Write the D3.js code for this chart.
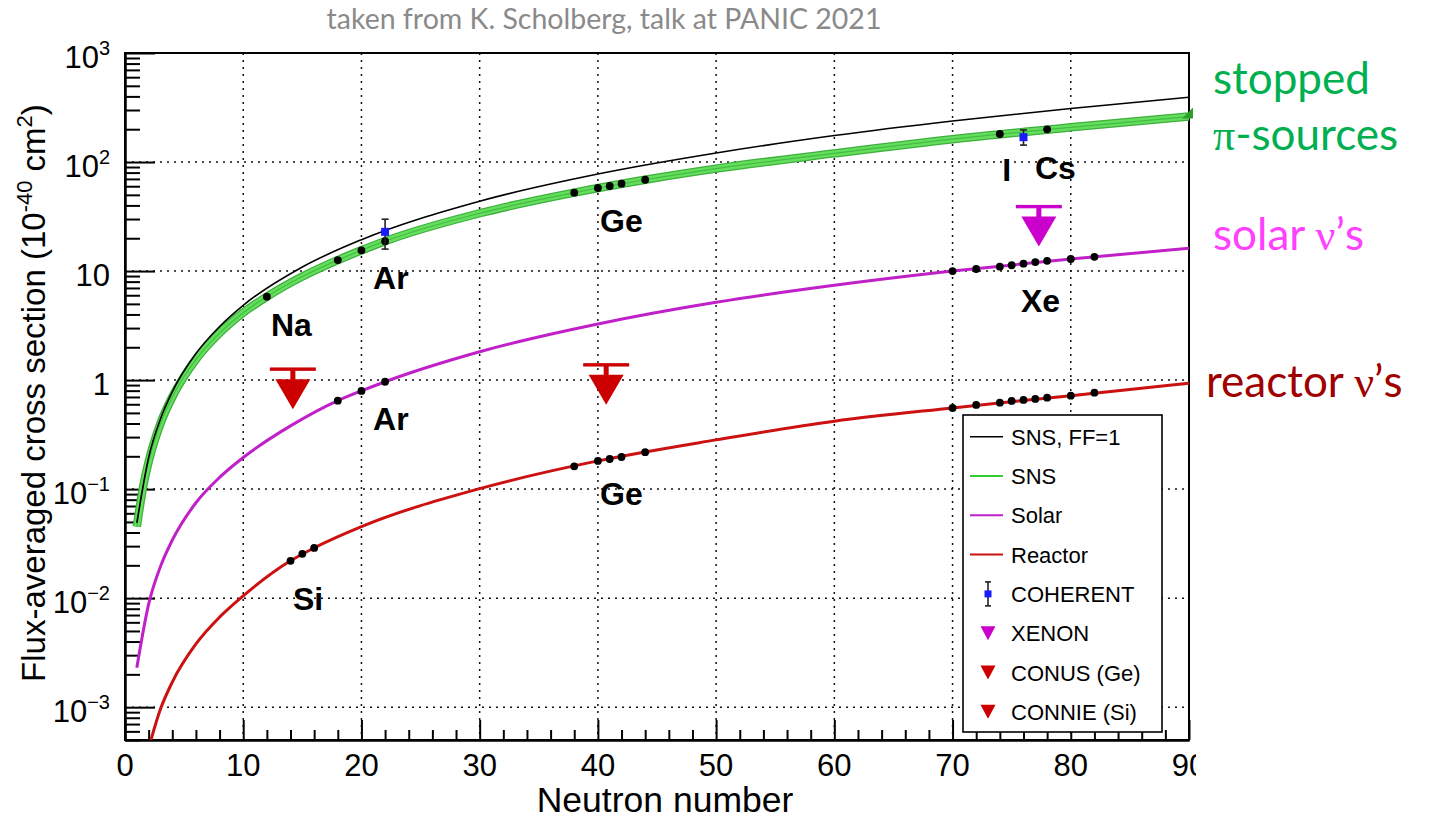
<!DOCTYPE html>
<html>
<head>
<meta charset="utf-8">
<script src="https://cdn.jsdelivr.net/npm/d3@7"></script>
<style>
  body { margin: 0; background: #fff; }
  svg { display: block; }
</style>
</head>
<body>
<svg id="chart" width="1432" height="822"></svg>
<script>
// ---- Flux-averaged CEvNS cross sections vs neutron number ----

// SNS, form factor = 1
const ffN     = [1, 2, 3, 4, 6, 8, 10, 15, 20, 30, 40, 50, 60, 70, 80, 90];
const ffSigma = [0.049, 0.195, 0.44, 0.78, 1.75, 3.1, 4.85, 10.9, 19.4, 43.7, 77.6, 121, 175, 238, 310, 393];

// SNS (stopped-pion source)
const snsN     = [1, 1.5, 2, 3, 4, 5, 6, 8, 10, 12, 15, 18, 20, 22, 30, 38, 44, 50, 60, 70, 80, 90];
const snsSigma = [0.0453, 0.10, 0.178, 0.40, 0.70, 1.08, 1.55, 2.7, 4.15, 5.82, 8.9, 12.6, 15.5, 18.8, 33.9, 52.4, 68.8, 87, 120, 162, 208, 261];

// Solar neutrinos
const solarN     = [1, 2, 3, 4, 6, 8, 10, 14, 18, 20, 22, 30, 40, 50, 60, 70, 80, 90];
const solarSigma = [0.0023, 0.0088, 0.0195, 0.034, 0.075, 0.128, 0.195, 0.38, 0.648, 0.796, 0.966, 1.82, 3.27, 5.17, 7.4, 10.0, 12.9, 16.2];

// Reactor antineutrinos
const reactorN     = [2, 3, 4, 6, 8, 10, 14, 16, 20, 30, 40, 50, 60, 70, 80, 90];
const reactorSigma = [0.00042, 0.00096, 0.0017, 0.0038, 0.0067, 0.0105, 0.022, 0.0289, 0.0453, 0.101, 0.1815, 0.283, 0.42, 0.556, 0.72, 0.935];

// Isotopes of target nuclei on each curve
const snsIsoN     = [12, 18, 20, 22, 38, 40, 41, 42, 44, 74, 78];
const snsIsoSigma = [5.82, 12.6, 15.5, 18.8, 52.4, 57.8, 60.3, 63.3, 68.8, 180.7, 199.6];
const solarIsoN     = [18, 20, 22, 70, 72, 74, 75, 76, 77, 78, 80, 82];
const solarIsoSigma = [0.648, 0.796, 0.966, 10.0, 10.45, 10.97, 11.3, 11.7, 12.1, 12.4, 12.9, 13.5];
const reactorIsoN     = [14, 15, 16, 38, 40, 41, 42, 44, 70, 72, 74, 75, 76, 77, 78, 80, 82];
const reactorIsoSigma = [0.022, 0.0255, 0.0289, 0.162, 0.1815, 0.189, 0.197, 0.218, 0.556, 0.592, 0.621, 0.644, 0.658, 0.672, 0.690, 0.720, 0.767];

// COHERENT measurements (Ar, CsI)
const cohN     = [22, 76];
const cohSigma = [22.9, 169];
const cohErrLo = [7.0, 26];
const cohErrHi = [7.0, 28];

// Upper limits
const limitNames = ["CONNIE (Si)", "CONUS (Ge)", "XENON"];
const limitN     = [14.2, 40.7, 77.3];
const limitSigma = [1.26, 1.38, 39];

// Element labels (text, N, sigma at baseline-left)
const elemText  = ["Na", "Ar", "Ge", "I", "Cs", "Xe", "Ar", "Ge", "Si"];
const elemN     = [12.35, 20.98, 40.18, 74.2, 76.97, 75.79, 20.98, 40.18, 14.21];
const elemSigma = [2.54, 6.85, 22.9, 67, 70, 4.22, 0.349, 0.0716, 0.0078];

// Axis ticks
const xMajor = [0, 10, 20, 30, 40, 50, 60, 70, 80, 90];
const yDecades = [-3, -2, -1, 0, 1, 2, 3];

const legendLabels = ["SNS, FF=1", "SNS", "Solar", "Reactor", "COHERENT", "XENON", "CONUS (Ge)", "CONNIE (Si)"];

// ---------------------------------------------------------------
const FONT = "'Liberation Sans', Arial, Helvetica, sans-serif";
const C = {
  ff: "#000000",
  snsEdge: "#3bb03b", snsFill: "#66dd5e", snsMid: "#3fbf3f",
  solar: "#c020c8",
  reactor: "#cc1111",
  limitRed: "#cc0000",
  limitMag: "#cc00cc",
  coh: "#1a1aff"
};

const svg = d3.select("#chart");
const X0 = 125, X1 = 1189, Y0 = 53, Y1 = 740;
const x = d3.scaleLinear().domain([0, 90]).range([X0, X1]);
const y = d3.scaleLog().domain([5e-4, 1e3]).range([Y1, Y0]);

const zip = (a, b) => a.map((v, i) => ({ n: v, s: b[i] }));

// caption
svg.append("text")
  .attr("x", 604).attr("y", 29)
  .attr("text-anchor", "middle")
  .attr("font-family", "Lato, 'Open Sans', sans-serif")
  .attr("font-size", 28.5)
  .attr("fill", "#8a8a8a")
  .text("taken from K. Scholberg, talk at PANIC 2021");

// clip for plot contents
const defs = svg.append("defs");
defs.append("clipPath").attr("id", "plotClip")
  .append("rect").attr("x", X0).attr("y", Y0).attr("width", X1 - X0).attr("height", Y1 - Y0);
defs.append("clipPath").attr("id", "pageClip")
  .append("rect").attr("x", 0).attr("y", 0).attr("width", 1196).attr("height", 822);

// grid
const grid = svg.append("g").attr("stroke", "#111").attr("stroke-width", 1.5)
  .attr("stroke-dasharray", "2,5");
grid.selectAll("line.v").data(xMajor.filter(d => d > 0 && d < 90)).join("line")
  .attr("x1", d => x(d)).attr("x2", d => x(d)).attr("y1", Y0).attr("y2", Y1);
grid.selectAll("line.h").data(yDecades.filter(d => d < 3)).join("line")
  .attr("y1", d => y(Math.pow(10, d))).attr("y2", d => y(Math.pow(10, d)))
  .attr("x1", X0).attr("x2", X1);

// axes (ticks point inward)
const yMinor = [];
for (let d = -4; d <= 2; d++) for (let k = 2; k <= 9; k++) {
  const v = k * Math.pow(10, d);
  if (v >= 5e-4 && v <= 1e3) yMinor.push(v);
}
const axStyle = g => { g.selectAll("path, line").attr("stroke", "#000").attr("stroke-width", 2); g.selectAll("text").remove(); };

svg.append("g").attr("transform", `translate(${X0},0)`)
  .call(d3.axisLeft(y).tickValues(yMinor).tickSize(-15).tickSizeOuter(0).tickFormat(""))
  .call(axStyle);
svg.append("g").attr("transform", `translate(${X0},0)`)
  .call(d3.axisLeft(y).tickValues(yDecades.map(d => Math.pow(10, d))).tickSize(-30).tickSizeOuter(0).tickFormat(""))
  .call(axStyle);
svg.append("g").attr("transform", `translate(0,${Y1})`)
  .call(d3.axisBottom(x).tickValues(d3.range(0, 91, 2).filter(v => v % 10)).tickSize(-10).tickSizeOuter(0).tickFormat(""))
  .call(axStyle);
svg.append("g").attr("transform", `translate(0,${Y1})`)
  .call(d3.axisBottom(x).tickValues(xMajor).tickSize(-20).tickSizeOuter(0).tickFormat(""))
  .call(axStyle);

// frame
svg.append("rect").attr("x", X0).attr("y", Y0).attr("width", X1 - X0).attr("height", Y1 - Y0)
  .attr("fill", "none").attr("stroke", "#000").attr("stroke-width", 2);

// x tick labels
svg.append("g").attr("clip-path", "url(#pageClip)")
  .selectAll("text").data(xMajor).join("text")
  .attr("x", d => x(d)).attr("y", 776)
  .attr("text-anchor", "middle")
  .attr("font-family", FONT).attr("font-size", 31)
  .text(d => d);

// y tick labels
const yl = svg.append("g").attr("font-family", FONT).attr("font-size", 31);
yDecades.forEach(d => {
  const t = yl.append("text").attr("x", 110).attr("y", y(Math.pow(10, d)) + 15).attr("text-anchor", "end");
  if (d === 0) t.text("1");
  else if (d === 1) t.text("10");
  else {
    t.append("tspan").text("10");
    t.append("tspan").attr("dy", -13).attr("font-size", 20).text(d < 0 ? "\u2212" + (-d) : String(d));
  }
});

// axis titles
svg.append("text").attr("x", 665).attr("y", 812).attr("text-anchor", "middle")
  .attr("font-family", FONT).attr("font-size", 35.5).text("Neutron number");

const yt = svg.append("text")
  .attr("transform", "translate(45,393) rotate(-90)")
  .attr("text-anchor", "middle")
  .attr("font-family", FONT).attr("font-size", 33);
yt.append("tspan").text("Flux-averaged cross section (10");
yt.append("tspan").attr("dy", -13).attr("font-size", 22).text("-40");
yt.append("tspan").attr("dy", 13).text(" cm");
yt.append("tspan").attr("dy", -13).attr("font-size", 22).text("2");
yt.append("tspan").attr("dy", 13).text(")");

// curves
const line = d3.line().x(d => x(d.n)).y(d => y(d.s)).curve(d3.curveMonotoneX);
const plot = svg.append("g").attr("clip-path", "url(#plotClip)");

plot.append("path").datum(zip(snsN, snsSigma)).attr("d", line)
  .attr("fill", "none").attr("stroke", C.snsEdge).attr("stroke-width", 8.5);
plot.append("path").datum(zip(snsN, snsSigma)).attr("d", line)
  .attr("fill", "none").attr("stroke", C.snsFill).attr("stroke-width", 6);
plot.append("path").datum(zip(snsN, snsSigma)).attr("d", line)
  .attr("fill", "none").attr("stroke", C.snsMid).attr("stroke-width", 1.2);

plot.append("path").datum(zip(ffN, ffSigma)).attr("d", line)
  .attr("fill", "none").attr("stroke", C.ff).attr("stroke-width", 1.6);
plot.append("path").datum(zip(solarN, solarSigma)).attr("d", line)
  .attr("fill", "none").attr("stroke", C.solar).attr("stroke-width", 3);
plot.append("path").datum(zip(reactorN, reactorSigma)).attr("d", line)
  .attr("fill", "none").attr("stroke", C.reactor).attr("stroke-width", 3);

// small end-marker on the SNS band at N = 90
{
  const ex = x(snsN[snsN.length - 1]), ey = y(snsSigma[snsSigma.length - 1]);
  svg.append("path").attr("d", `M${ex - 7},${ey + 2} L${ex + 4},${ey - 9} L${ex + 4},${ey + 2} Z`)
    .attr("fill", "#2aa02a");
}

// isotope points
const dots = zip(snsIsoN, snsIsoSigma).concat(zip(solarIsoN, solarIsoSigma), zip(reactorIsoN, reactorIsoSigma));
svg.append("g").selectAll("circle").data(dots).join("circle")
  .attr("cx", d => x(d.n)).attr("cy", d => y(d.s)).attr("r", 3.9).attr("fill", "#000");

// COHERENT points
const coh = svg.append("g");
cohN.forEach((n, i) => {
  const cx = x(n), lo = y(cohSigma[i] - cohErrLo[i]), hi = y(cohSigma[i] + cohErrHi[i]), cy = y(cohSigma[i]);
  coh.append("line").attr("x1", cx).attr("x2", cx).attr("y1", lo).attr("y2", hi).attr("stroke", "#222").attr("stroke-width", 1.6);
  coh.append("line").attr("x1", cx - 3.5).attr("x2", cx + 3.5).attr("y1", lo).attr("y2", lo).attr("stroke", "#222").attr("stroke-width", 1.6);
  coh.append("line").attr("x1", cx - 3.5).attr("x2", cx + 3.5).attr("y1", hi).attr("y2", hi).attr("stroke", "#222").attr("stroke-width", 1.6);
  coh.append("rect").attr("x", cx - 4).attr("y", cy - 4).attr("width", 8).attr("height", 8).attr("fill", C.coh);
});

// upper limits: bar at the limit, arrow pointing down
const limColor = [C.limitRed, C.limitRed, C.limitMag];
limitN.forEach((n, i) => {
  const cx = x(n), cy = y(limitSigma[i]);
  const g = svg.append("g").attr("fill", limColor[i]);
  g.append("rect").attr("x", cx - 23).attr("y", cy - 1.7).attr("width", 46).attr("height", 3.4);
  g.append("rect").attr("x", cx - 2.5).attr("y", cy).attr("width", 5).attr("height", 12);
  g.append("path").attr("d", `M${cx - 17.5},${cy + 10} L${cx + 17.5},${cy + 10} L${cx},${cy + 40} Z`);
});

// element labels
svg.append("g").selectAll("text").data(elemText).join("text")
  .attr("x", (d, i) => x(elemN[i])).attr("y", (d, i) => y(elemSigma[i]))
  .attr("font-family", FONT).attr("font-weight", "bold").attr("font-size", 32)
  .text(d => d);

// legend
const L = { x: 963, y: 415, w: 199, h: 317, row0: 436.7, dy: 39.3 };
const lg = svg.append("g");
lg.append("rect").attr("x", L.x).attr("y", L.y).attr("width", L.w).attr("height", L.h)
  .attr("fill", "#fff").attr("stroke", "#000").attr("stroke-width", 1.6);
const lineCols = [C.ff, "#33cc33", C.solar, C.reactor];
legendLabels.forEach((lab, i) => {
  const cy = L.row0 + i * L.dy;
  if (i < 4) {
    lg.append("line").attr("x1", 970).attr("x2", 1003).attr("y1", cy).attr("y2", cy)
      .attr("stroke", lineCols[i]).attr("stroke-width", i === 0 ? 1.5 : 2);
  } else if (i === 4) {
    lg.append("line").attr("x1", 988).attr("x2", 988).attr("y1", cy - 12).attr("y2", cy + 12).attr("stroke", "#222").attr("stroke-width", 1.6);
    lg.append("line").attr("x1", 985).attr("x2", 991).attr("y1", cy - 12).attr("y2", cy - 12).attr("stroke", "#222").attr("stroke-width", 1.6);
    lg.append("line").attr("x1", 985).attr("x2", 991).attr("y1", cy + 12).attr("y2", cy + 12).attr("stroke", "#222").attr("stroke-width", 1.6);
    lg.append("rect").attr("x", 984.5).attr("y", cy - 3.5).attr("width", 7).attr("height", 7).attr("fill", C.coh);
  } else {
    const col = i === 5 ? C.limitMag : C.limitRed;
    lg.append("path").attr("d", `M${980.5},${cy - 7} L${995.5},${cy - 7} L${988},${cy + 7} Z`).attr("fill", col);
  }
  lg.append("text").attr("x", 1011).attr("y", cy + 8)
    .attr("font-family", FONT).attr("font-size", 22).text(lab);
});

// source annotations beside the plot
const ann = svg.append("g").attr("font-family", "Lato, Carlito, 'Open Sans', sans-serif").attr("font-size", 44);
ann.append("text").attr("x", 1213).attr("y", 94).attr("fill", "#00b050").text("stopped");
const pi = ann.append("text").attr("x", 1213).attr("y", 150).attr("fill", "#00b050");
pi.append("tspan").attr("font-family", "'Liberation Serif', 'DejaVu Serif', serif").text("\u03c0");
pi.append("tspan").text("-sources");
const so = ann.append("text").attr("x", 1213).attr("y", 250).attr("fill", "#ff40ff");
so.append("tspan").text("solar ");
so.append("tspan").attr("font-family", "'Liberation Serif', 'DejaVu Serif', serif").text("\u03bd");
so.append("tspan").text("\u2019s");
const re = ann.append("text").attr("x", 1206).attr("y", 397).attr("fill", "#a00000");
re.append("tspan").text("reactor ");
re.append("tspan").attr("font-family", "'Liberation Serif', 'DejaVu Serif', serif").text("\u03bd");
re.append("tspan").text("\u2019s");
</script>
</body>
</html>
